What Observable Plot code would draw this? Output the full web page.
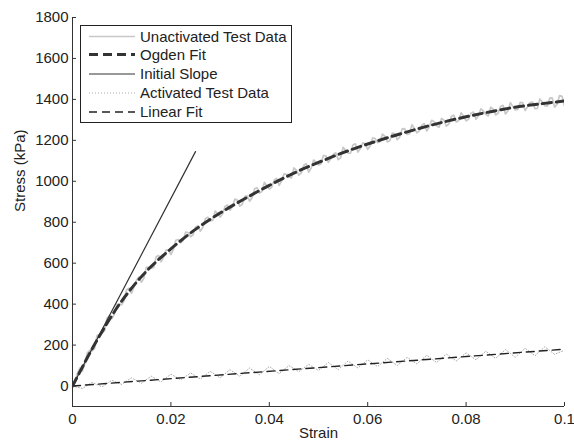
<!DOCTYPE html>
<html>
<head>
<meta charset="utf-8">
<script src="https://cdn.jsdelivr.net/npm/d3@7"></script>
<script src="https://cdn.jsdelivr.net/npm/@observablehq/plot@0.6"></script>
<style>
  body { margin: 0; background: #fff; }
  #wrap { position: relative; width: 574px; height: 443px; font-family: "Liberation Sans", Arial, sans-serif; }
  #legend { position: absolute; left: 80px; top: 25px; }
</style>
</head>
<body>
<div id="wrap"></div>
<script>
// ---- Data ----
const xTicks = [0, 0.02, 0.04, 0.06, 0.08, 0.1];
const yTicks = [0, 200, 400, 600, 800, 1000, 1200, 1400, 1600, 1800];

// Unactivated test data (strain, stress kPa)
const unactStrain = [0,0.0005,0.001,0.0015,0.002,0.0025,0.003,0.0035,0.004,0.0045,0.005,0.0055,0.006,0.0065,0.007,0.0075,0.008,0.0085,0.009,0.0095,
0.010,0.0105,0.011,0.0115,0.012,0.0125,0.013,0.0135,0.014,0.0145,0.015,0.0155,0.016,0.0165,0.017,0.0175,0.018,0.0185,0.019,0.0195,
0.020,0.0205,0.021,0.0215,0.022,0.0225,0.023,0.0235,0.024,0.0245,0.025,0.0255,0.026,0.0265,0.027,0.0275,0.028,0.0285,0.029,0.0295,
0.030,0.0305,0.031,0.0315,0.032,0.0325,0.033,0.0335,0.034,0.0345,0.035,0.0355,0.036,0.0365,0.037,0.0375,0.038,0.0385,0.039,0.0395,
0.040,0.0405,0.041,0.0415,0.042,0.0425,0.043,0.0435,0.044,0.0445,0.045,0.0455,0.046,0.0465,0.047,0.0475,0.048,0.0485,0.049,0.0495,
0.050,0.0505,0.051,0.0515,0.052,0.0525,0.053,0.0535,0.054,0.0545,0.055,0.0555,0.056,0.0565,0.057,0.0575,0.058,0.0585,0.059,0.0595,
0.060,0.0605,0.061,0.0615,0.062,0.0625,0.063,0.0635,0.064,0.0645,0.065,0.0655,0.066,0.0665,0.067,0.0675,0.068,0.0685,0.069,0.0695,
0.070,0.0705,0.071,0.0715,0.072,0.0725,0.073,0.0735,0.074,0.0745,0.075,0.0755,0.076,0.0765,0.077,0.0775,0.078,0.0785,0.079,0.0795,
0.080,0.0805,0.081,0.0815,0.082,0.0825,0.083,0.0835,0.084,0.0845,0.085,0.0855,0.086,0.0865,0.087,0.0875,0.088,0.0885,0.089,0.0895,
0.090,0.0905,0.091,0.0915,0.092,0.0925,0.093,0.0935,0.094,0.0945,0.095,0.0955,0.096,0.0965,0.097,0.0975,0.098,0.0985,0.099,0.0995,0.100];
const unactStress = [0,18,62,88,73,109,162,174,172,184,247,253,259,269,331,344,329,350,398,402,
397,418,470,478,453,484,516,532,507,526,580,580,575,579,631,638,607,628,664,665,
642,666,712,716,699,711,752,750,729,738,777,783,757,775,817,825,807,809,854,843,
825,840,877,884,859,874,913,908,879,888,925,929,903,919,963,969,942,950,995,978,
962,972,1006,1014,980,1002,1036,1034,1020,1016,1065,1055,1030,1041,1077,1086,1045,1064,1104,1093,
1080,1085,1126,1124,1093,1110,1131,1139,1106,1115,1166,1152,1138,1137,1177,1183,1143,1159,1188,1183,
1156,1172,1212,1209,1189,1193,1230,1220,1192,1198,1236,1233,1203,1216,1256,1257,1229,1232,1276,1257,
1237,1246,1273,1282,1246,1265,1298,1291,1271,1264,1307,1298,1269,1280,1316,1323,1290,1296,1335,1317,
1295,1303,1332,1338,1303,1319,1354,1344,1327,1319,1362,1352,1324,1332,1365,1371,1329,1343,1384,1366,
1348,1351,1385,1384,1346,1364,1384,1387,1355,1356,1402,1387,1369,1367,1406,1407,1362,1377,1419,1415,1366];

// Ogden fit
const ogdenStrain = [0,0.005,0.01,0.015,0.02,0.025,0.03,0.035,0.04,0.045,0.05,0.055,0.06,0.065,0.07,0.075,0.08,0.085,0.09,0.095,0.1];
const ogdenStress = [0,225,415,560,670,765,845,915,980,1040,1092,1140,1182,1220,1255,1287,1315,1340,1362,1378,1392];

// Initial slope
const slopeStrain = [0, 0.025];
const slopeStress = [0, 1145];

// Activated test data
const actStrain = [0,0.002,0.004,0.006,0.008,0.010,0.012,0.014,0.016,0.018,0.020,0.022,0.024,0.026,0.028,0.030,0.032,0.034,0.036,0.038,0.040,0.042,0.044,0.046,0.048,0.050,0.052,0.054,0.056,0.058,0.060,0.062,0.064,0.066,0.068,0.070,0.072,0.074,0.076,0.078,0.080,0.082,0.084,0.086,0.088,0.090,0.092,0.094,0.096,0.098,0.100];
const actStress = [0,-12,18,-4,28,8,40,14,48,20,58,30,64,34,72,40,80,48,88,55,96,60,100,70,106,76,115,80,122,88,128,95,135,100,140,108,150,115,156,122,162,128,170,135,178,140,185,148,192,155,175];

// Linear fit
const linStrain = [0, 0.1];
const linStress = [0, 180];

const zip = (xs, ys) => xs.map((x, i) => ({x, y: ys[i]}));
const FONT = "'Liberation Sans', Arial, sans-serif";

const plot = Plot.plot({
  width: 574,
  height: 443,
  marginLeft: 72,
  marginRight: 10,
  marginTop: 17,
  marginBottom: 37,
  style: {fontFamily: FONT, fontSize: "15px", color: "#222", background: "#fff", overflow: "visible"},
  x: {domain: [0, 0.1]},
  y: {domain: [-100, 1800]},
  marks: [
    Plot.line(zip(unactStrain, unactStress), {x: "x", y: "y", stroke: "#c8c8c8", strokeWidth: 1.7, clip: true}),
    Plot.line(zip(ogdenStrain, ogdenStress), {x: "x", y: "y", stroke: "#333", strokeWidth: 3, strokeDasharray: "9,5", curve: "catmull-rom", clip: true}),
    Plot.line(zip(slopeStrain, slopeStress), {x: "x", y: "y", stroke: "#333", strokeWidth: 1.2}),
    Plot.line(zip(actStrain, actStress), {x: "x", y: "y", stroke: "#aaa", strokeWidth: 1, strokeDasharray: "1,2", clip: true}),
    Plot.line(zip(linStrain, linStress), {x: "x", y: "y", stroke: "#222", strokeWidth: 1.4, strokeDasharray: "8,5"}),
    Plot.ruleX([0], {stroke: "#333", strokeWidth: 1}),
    Plot.ruleY([-100], {stroke: "#333", strokeWidth: 1}),
    Plot.axisX({ticks: xTicks, tickSize: -4, tickFormat: () => "", label: null, stroke: "#333"}),
    Plot.axisX({ticks: xTicks, tickSize: 0, tickPadding: 7, tickFormat: d => String(d), label: null, fill: "#222", fontSize: 15}),
    Plot.axisY({ticks: yTicks, tickSize: -4, tickFormat: () => "", label: null, stroke: "#333"}),
    Plot.axisY({ticks: yTicks, tickSize: 0, tickPadding: 4, tickFormat: d => String(d), label: null, fill: "#222", fontSize: 15}),
    Plot.text(["Strain"], {frameAnchor: "bottom", dy: 31, fill: "#222", fontSize: 15}),
    Plot.text(["Stress (kPa)"], {frameAnchor: "left", dx: -52, rotate: -90, fill: "#222", fontSize: 15})
  ]
});
document.getElementById("wrap").appendChild(plot);

// Legend (drawn inside the axes, upper left)
const legendItems = [
  {label: "Unactivated Test Data", stroke: "#c8c8c8", width: 1.7, dash: null},
  {label: "Ogden Fit", stroke: "#333", width: 3, dash: "9,5"},
  {label: "Initial Slope", stroke: "#333", width: 1.2, dash: null},
  {label: "Activated Test Data", stroke: "#aaa", width: 1, dash: "1,2"},
  {label: "Linear Fit", stroke: "#222", width: 1.4, dash: "8,5"}
];
const lg = d3.select("#wrap").append("svg").attr("id", "legend")
  .attr("width", 212).attr("height", 98);
lg.append("rect").attr("x", 0.5).attr("y", 0.5).attr("width", 211).attr("height", 97)
  .attr("fill", "#fff").attr("stroke", "#222").attr("stroke-width", 1);
const rowY = [11.5, 29.5, 49, 68, 87];
legendItems.forEach((d, i) => {
  lg.append("line").attr("x1", 9).attr("x2", 55).attr("y1", rowY[i]).attr("y2", rowY[i])
    .attr("stroke", d.stroke).attr("stroke-width", d.width)
    .attr("stroke-dasharray", d.dash);
  lg.append("text").attr("x", 60).attr("y", rowY[i]).attr("dy", "0.35em")
    .attr("font-family", FONT).attr("font-size", 15)
    .attr("fill", "#222").text(d.label);
});
</script>
</body>
</html>
